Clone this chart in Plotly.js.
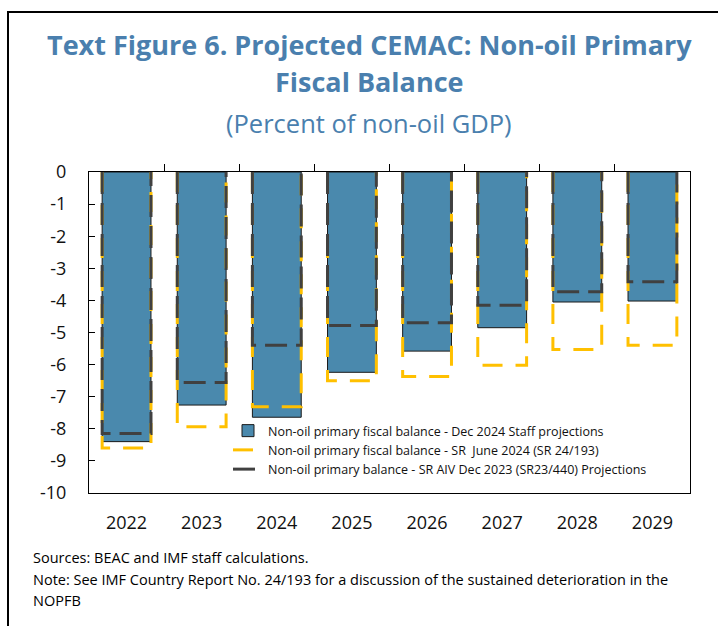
<!DOCTYPE html>
<html>
<head>
<meta charset="utf-8">
<script src="https://cdn.plot.ly/plotly-3.0.1.min.js"></script>
<style>
  html, body { margin: 0; padding: 0; background: #fff; }
  #wrap { position: relative; width: 718px; height: 626px; overflow: hidden; }
  #chart { position: absolute; left: 0; top: 0; width: 718px; height: 626px; }
  #frame { position: absolute; left: 7px; top: 11px; width: 760px; height: 700px;
           border-left: 2px solid #000; border-top: 2px solid #000; pointer-events: none; }
</style>
</head>
<body>
<div id="wrap">
  <div id="chart"></div>
  <div id="frame"></div>
</div>
<script>
// ---- data ----
const years = ["2022", "2023", "2024", "2025", "2026", "2027", "2028", "2029"];
const dec2024Staff = [-8.40, -7.26, -7.64, -6.24, -5.58, -4.85, -4.05, -4.02];
const srJune2024 = [-8.60, -7.94, -7.31, -6.50, -6.37, -6.02, -5.53, -5.40];
const srAivDec2023 = [-8.15, -6.56, -5.40, -4.78, -4.70, -4.15, -3.73, -3.42];
const seriesNames = [
  "Non-oil primary fiscal balance - Dec 2024 Staff projections",
  "Non-oil primary fiscal balance - SR  June 2024 (SR 24/193)",
  "Non-oil primary balance - SR AIV Dec 2023 (SR23/440) Projections"
];
const yTickVals = [0, -1, -2, -3, -4, -5, -6, -7, -8, -9, -10];

// ---- layout helpers ----
const W = 718, H = 626;
const M = { l: 89, r: 28, t: 172, b: 133 };
const PW = W - M.l - M.r, PH = H - M.t - M.b;
const px = x => (x - M.l) / PW;
const py = y => (H - M.b - y) / PH;
const barW = 0.65;
const idx = years.map((_, i) => i);

function outline(vals) {
  const xs = [], ys = [];
  vals.forEach((v, i) => {
    xs.push(i - barW / 2, i - barW / 2, i + barW / 2, i + barW / 2, null);
    ys.push(0, v, v, 0, null);
  });
  return { xs, ys };
}
const o1 = outline(srJune2024);
const o2 = outline(srAivDec2023);

const traces = [
  {
    type: "bar", x: idx, y: dec2024Staff, width: barW, name: seriesNames[0],
    marker: { color: "#4A89AD", line: { color: "#1a1a1a", width: 1 } },
    hoverinfo: "skip"
  },
  {
    type: "scatter", mode: "lines", x: o1.xs, y: o1.ys, name: seriesNames[1],
    line: { color: "#FFC000", width: 3, dash: "20px,13px" }, connectgaps: false,
    hoverinfo: "skip"
  },
  {
    type: "scatter", mode: "lines", x: o2.xs, y: o2.ys, name: seriesNames[2],
    line: { color: "#404040", width: 3, dash: "22px,9px" }, connectgaps: false,
    hoverinfo: "skip"
  },
  {
    type: "scatter", mode: "markers", x: [0], y: [0], xaxis: "x2", showlegend: false,
    marker: { opacity: 0 }, hoverinfo: "skip"
  }
];

const font = "Open Sans, Noto Sans, sans-serif";
const titleColor = "#4A7FAE";

const layout = {
  width: W, height: H,
  margin: M,
  paper_bgcolor: "#fff", plot_bgcolor: "#fff",
  font: { family: font, color: "#000" },
  showlegend: true,
  barmode: "overlay",
  xaxis: {
    range: [-0.5, 7.5], tickmode: "array", tickvals: idx, ticktext: years,
    ticks: "", showline: true, linecolor: "#000", linewidth: 1, mirror: true,
    showgrid: false, zeroline: false, fixedrange: true,
    tickfont: { size: 18, color: "#111" }, ticklabelstandoff: 13
  },
  xaxis2: {
    overlaying: "x", anchor: "y", side: "top", range: [-0.5, 7.5],
    tickmode: "array", tickvals: [0.5, 1.5, 2.5, 3.5, 4.5, 5.5, 6.5],
    ticks: "outside", ticklen: 7, tickcolor: "#000", tickwidth: 1,
    showticklabels: false, showline: false, showgrid: false, zeroline: false
  },
  yaxis: {
    range: [-10, 0], tickmode: "array", tickvals: yTickVals,
    ticktext: yTickVals.map(String),
    ticks: "inside", ticklen: 6, tickcolor: "#000", tickwidth: 1,
    showline: true, linecolor: "#000", linewidth: 1, mirror: true,
    showgrid: false, zeroline: false,
    tickfont: { size: 18, color: "#111" }, ticklabelstandoff: 18
  },
  legend: {
    x: px(228), y: py(416), xanchor: "left", yanchor: "top",
    bgcolor: "rgba(0,0,0,0)", font: { size: 12.5, color: "#111" },
    itemwidth: 30, tracegroupgap: 0
  },
  annotations: [
    { text: "<b>Text Figure 6. Projected CEMAC: Non-oil Primary</b>", xref: "paper", yref: "paper",
      x: px(369), y: py(44), xanchor: "center", yanchor: "middle", showarrow: false,
      font: { size: 27, color: titleColor, family: font } },
    { text: "<b>Fiscal Balance</b>", xref: "paper", yref: "paper",
      x: px(369), y: py(81), xanchor: "center", yanchor: "middle", showarrow: false,
      font: { size: 27, color: titleColor, family: font } },
    { text: "(Percent of non-oil GDP)", xref: "paper", yref: "paper",
      x: px(369), y: py(123), xanchor: "center", yanchor: "middle", showarrow: false,
      font: { size: 25.5, color: titleColor, family: font } },
    { text: "Sources: BEAC and IMF staff calculations.", xref: "paper", yref: "paper",
      x: px(31), y: py(557), xanchor: "left", yanchor: "middle", showarrow: false,
      font: { size: 14.5, color: "#000", family: font } },
    { text: "Note: See IMF Country Report No. 24/193 for a discussion of the sustained deterioration in the", xref: "paper", yref: "paper",
      x: px(31), y: py(579), xanchor: "left", yanchor: "middle", showarrow: false,
      font: { size: 14.5, color: "#000", family: font } },
    { text: "NOPFB", xref: "paper", yref: "paper",
      x: px(31), y: py(600), xanchor: "left", yanchor: "middle", showarrow: false,
      font: { size: 14.5, color: "#000", family: font } }
  ]
};

Plotly.newPlot("chart", traces, layout, { displayModeBar: false, staticPlot: true });
</script>
</body>
</html>
